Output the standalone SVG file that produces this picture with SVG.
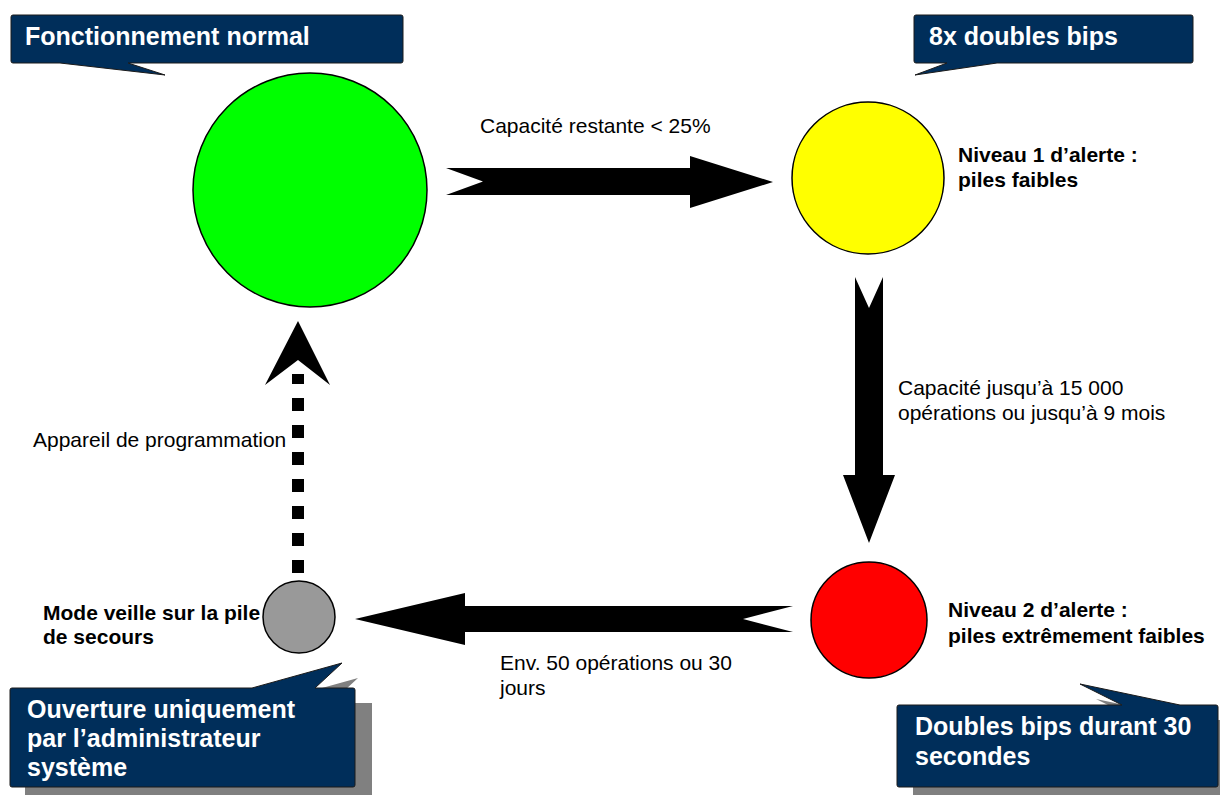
<svg xmlns="http://www.w3.org/2000/svg" width="1220" height="795" viewBox="0 0 1220 795">
<style>
.lbl{font-family:"Liberation Sans",Arial,sans-serif;font-size:21px;fill:#000}
.b{font-weight:bold}
.call{font-family:"Liberation Sans",Arial,sans-serif;font-size:25px;font-weight:bold;fill:#fff}
.box{fill:#002e5a;stroke:#1a1a1a;stroke-width:1}
.shadow{fill:#808080}
.node{stroke:#000;stroke-width:1.5}
</style>
<rect width="1220" height="795" fill="#fff"/>
<g id="connectors" fill="#000">
  <polygon points="446,168 690,168 690,156 773,182 690,208 690,195 446,195 483,181.5"/>
  <polygon points="855,277 869,308 883,277 883,475 895,475 869,543 843,475 855,475"/>
  <polygon points="793,606 465,606 465,593 355,619 465,645 465,632 793,632 743,619"/>
  <line x1="298" y1="573" x2="298" y2="374" stroke="#000" stroke-width="12" stroke-dasharray="13 14"/>
  <polygon points="298,321 330,385 298,360 265,385"/>
</g>
<g id="node-normal">
  <circle class="node" cx="310" cy="190" r="117" fill="#00ff00"/>
</g>
<g id="node-niveau1">
  <circle class="node" cx="868" cy="178" r="76" fill="#ffff00"/>
  <text class="lbl b" x="958" y="162">Niveau 1 d’alerte :</text>
  <text class="lbl b" x="958" y="187">piles faibles</text>
</g>
<g id="node-niveau2">
  <circle class="node" cx="869" cy="620" r="58" fill="#ff0000"/>
  <text class="lbl b" x="948" y="617">Niveau 2 d’alerte :</text>
  <text class="lbl b" x="948" y="643">piles extrêmement faibles</text>
</g>
<g id="node-veille">
  <text class="lbl b" x="43" y="620">Mode veille sur la pile</text>
  <text class="lbl b" x="43" y="644">de secours</text>
  <circle class="node" cx="299" cy="617" r="36" fill="#999999"/>
</g>
<g id="edge-labels">
  <text class="lbl" x="480" y="133">Capacité restante &lt; 25%</text>
  <text class="lbl" x="898" y="395">Capacité jusqu’à 15 000</text>
  <text class="lbl" x="898" y="420">opérations ou jusqu’à 9 mois</text>
  <text class="lbl" x="33" y="447">Appareil de programmation</text>
  <text class="lbl" x="500" y="670">Env. 50 opérations ou 30</text>
  <text class="lbl" x="500" y="695">jours</text>
</g>
<g id="callout-normal">
  <path class="box" d="M13,15 H401 Q403,15 403,17 V61 Q403,63 401,63 H128 L165,75 L60,63 H13 Q11,63 11,61 V17 Q11,15 13,15 Z"/>
  <text class="call" x="25" y="45">Fonctionnement normal</text>
</g>
<g id="callout-8x">
  <path class="box" d="M916,15 H1191 Q1193,15 1193,17 V61 Q1193,63 1191,63 H997 L915,75 L947,63 H916 Q914,63 914,61 V17 Q914,15 916,15 Z"/>
  <text class="call" x="929" y="45">8x doubles bips</text>
</g>
<g id="callout-ouverture">
  <path class="shadow" d="M25,703 H268 L358,678 L331,703 H372 V795 H25 Z"/>
  <path class="box" d="M12,688 H252 L342,663 L315,688 H353 Q355,688 355,690 V785 Q355,787 353,787 H12 Q10,787 10,785 V690 Q10,688 12,688 Z"/>
  <text class="call" x="27" y="718">Ouverture uniquement</text>
  <text class="call" x="27" y="747">par l’administrateur</text>
  <text class="call" x="27" y="776">système</text>
</g>
<g id="callout-doubles">
  <path class="shadow" d="M913,720 H1138 L1096,699 L1196,720 H1220 V795 H913 Z"/>
  <path class="box" d="M899,705 H1122 L1080,684 L1180,705 H1216 Q1218,705 1218,707 V785 Q1218,787 1216,787 H899 Q897,787 897,785 V707 Q897,705 899,705 Z"/>
  <text class="call" x="915" y="735">Doubles bips durant 30</text>
  <text class="call" x="915" y="765">secondes</text>
</g>
</svg>
